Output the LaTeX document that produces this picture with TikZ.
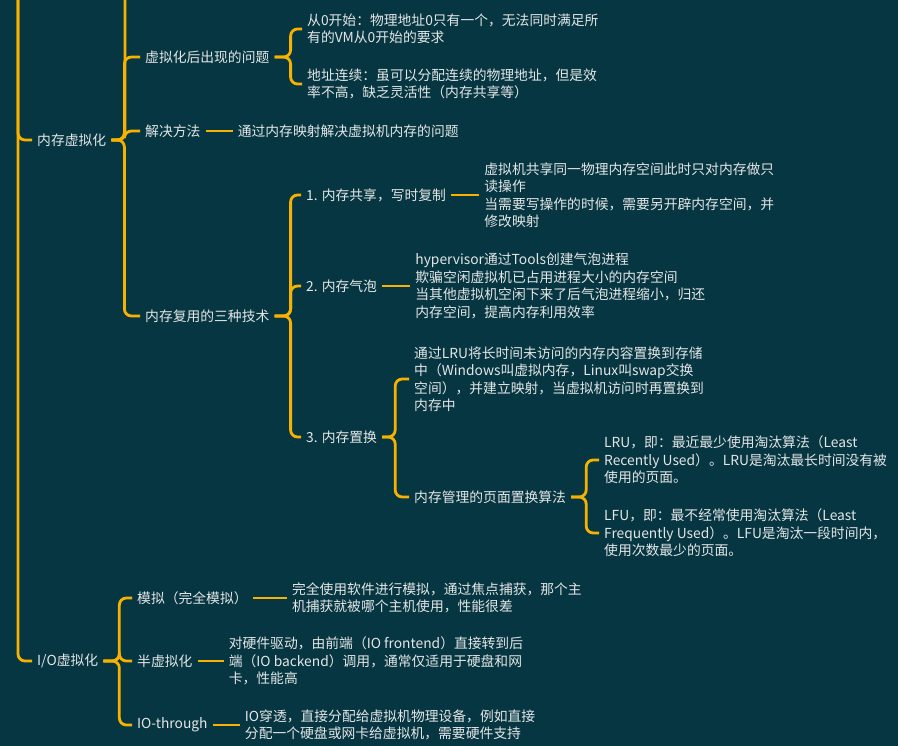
\documentclass[tikz,border=0pt]{standalone}
\usepackage{fontspec}
\setmainfont{Noto Sans CJK SC}
\usetikzlibrary{positioning}
\definecolor{bgteal}{HTML}{063642}
\definecolor{branch}{HTML}{F7B100}
\definecolor{txt}{HTML}{E4E6E6}

\begin{document}
\begin{tikzpicture}[
  x=1pt, y=-1pt,
  font=\fontsize{13.8}{17.5}\selectfont,
  every node/.style={text=txt, inner sep=3pt},
  topic/.style={anchor=west},
  leaf/.style={anchor=west, align=left},
  conn/.style={draw=branch, line width=2.8pt, rounded corners=7pt, shorten <=2pt, shorten >=2pt}
]
\fill[bgteal] (0,0) rectangle (898,746);
\clip (0,0) rectangle (898,746);

% main branches (root is above the page)
\coordinate (roottop) at (18,-20);
\node[topic] (mem) at (34,140) {内存虚拟化};
\node[topic] (io) at (34,661) {I/O虚拟化};

% memory virtualization
\coordinate (memtop) at (125,-20);
\node[topic] (issue) at (142,57) {虚拟化后出现的问题};
\node[topic] (solve) at (142,131) {解决方法};
\node[topic] (reuse) at (142,316) {内存复用的三种技术};

\node[leaf] (zero) at (304,29) {从0开始：物理地址0只有一个，无法同时满足所\\有的VM从0开始的要求};
\node[leaf] (cont) at (304,84) {地址连续：虽可以分配连续的物理地址，但是效\\率不高，缺乏灵活性（内存共享等）};
\node[leaf, right=31pt of solve] (mapping) {通过内存映射解决虚拟机内存的问题};

\node[topic] (share) at (303,195) {1. 内存共享，写时复制};
\node[topic] (balloon) at (303,286) {2. 内存气泡};
\node[topic] (swap) at (303,437) {3. 内存置换};
\node[leaf, right=32pt of share] (sharetxt) {虚拟机共享同一物理内存空间此时只对内存做只\\读操作\\当需要写操作的时候，需要另开辟内存空间，并\\修改映射};
\node[leaf, right=32pt of balloon] (balloontxt) {hypervisor通过Tools创建气泡进程\\欺骗空闲虚拟机已占用进程大小的内存空间\\当其他虚拟机空闲下来了后气泡进程缩小，归还\\内存空间，提高内存利用效率};
\node[leaf] (swaptxt) at (411,379) {通过LRU将长时间未访问的内存内容置换到存储\\中（Windows叫虚拟内存，Linux叫swap交换\\空间），并建立映射，当虚拟机访问时再置换到\\内存中};
\node[topic] (algo) at (411,497) {内存管理的页面置换算法};
\node[leaf] (lru) at (601,460) {LRU，即：最近最少使用淘汰算法（Least\\Recently Used）。LRU是淘汰最长时间没有被\\使用的页面。};
\node[leaf] (lfu) at (601,533) {LFU，即：最不经常使用淘汰算法（Least\\Frequently Used）。LFU是淘汰一段时间内，\\使用次数最少的页面。};

% I/O virtualization
\node[topic] (emu) at (134,598) {模拟（完全模拟）};
\node[topic] (para) at (134,661) {半虚拟化};
\node[topic] (pass) at (134,725) {IO-through};
\node[leaf, right=38pt of emu] (emutxt) {完全使用软件进行模拟，通过焦点捕获，那个主\\机捕获就被哪个主机使用，性能很差};
\node[leaf, right=30pt of para] (paratxt) {对硬件驱动，由前端（IO frontend）直接转到后\\端（IO backend）调用，通常仅适用于硬盘和网\\卡，性能高};
\node[leaf, right=31pt of pass] (passtxt) {IO穿透，直接分配给虚拟机物理设备，例如直接\\分配一个硬盘或网卡给虚拟机，需要硬件支持};

% connectors
\draw[conn] (roottop) |- (mem);
\draw[conn] (roottop) |- (io);

\draw[conn] (mem.east) -| (memtop);
\draw[conn] (mem.east) -- ++(15,0) |- (issue);
\draw[conn] (mem.east) -- ++(15,0) |- (solve);
\draw[conn] (mem.east) -- ++(15,0) |- (reuse);

\draw[conn] (issue.east) -- ++(18,0) |- (zero);
\draw[conn] (issue.east) -- ++(18,0) |- (cont);
\draw[conn] (solve) -- (mapping);

\draw[conn] (reuse.east) -- ++(18,0) |- (share);
\draw[conn] (reuse.east) -- ++(18,0) |- (balloon);
\draw[conn] (reuse.east) -- ++(18,0) |- (swap);
\draw[conn] (share) -- (sharetxt);
\draw[conn] (balloon) -- (balloontxt);

\draw[conn] (swap.east) -- ++(15,0) |- (swaptxt);
\draw[conn] (swap.east) -- ++(15,0) |- (algo);
\draw[conn] (algo.east) -- ++(17,0) |- (lru);
\draw[conn] (algo.east) -- ++(17,0) |- (lfu);

\draw[conn] (io.east) -- ++(18,0) |- (emu);
\draw[conn] (io.east) -- ++(18,0) |- (para);
\draw[conn] (io.east) -- ++(18,0) |- (pass);
\draw[conn] (emu) -- (emutxt);
\draw[conn] (para) -- (paratxt);
\draw[conn] (pass) -- (passtxt);
\end{tikzpicture}
\end{document}
